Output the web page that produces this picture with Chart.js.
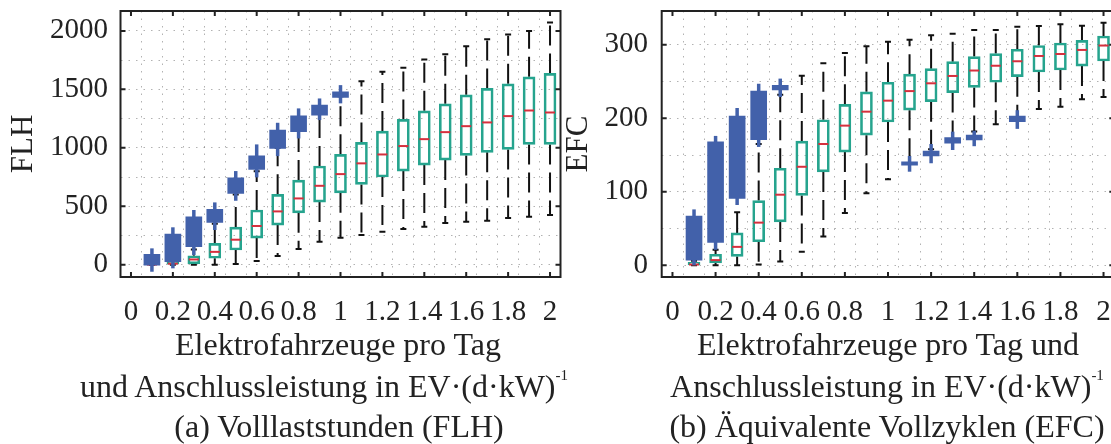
<!DOCTYPE html>
<html>
<head>
<meta charset="utf-8">
<script src="https://cdn.jsdelivr.net/npm/chart.js@4/dist/chart.umd.min.js"></script>
<style>
body { margin: 0; width: 1111px; height: 444px; overflow: hidden; background: #fff; position: relative;
       font-family: 'Liberation Serif', serif; color: #222; }
canvas { position: absolute; top: 0; }
#flh { left: 0; }
#efc { left: 560px; }
.cap { position: absolute; width: 700px; text-align: center; white-space: nowrap; font-size: 32px; line-height: 32px; }
.sup { position: relative; top: -17px; font-size: 15px; }
</style>
</head>
<body>
<canvas id="flh" width="570" height="330"></canvas>
<canvas id="efc" width="570" height="330"></canvas>
<div class="cap" style="left:-12px;top:328px">Elektrofahrzeuge pro Tag</div>
<div class="cap" style="left:-26px;top:370px">und Anschlussleistung in EV·(d·kW)<span class="sup">-1</span></div>
<div class="cap" style="left:-11px;top:410px">(a) Volllaststunden (FLH)</div>
<div class="cap" style="left:538px;top:328px">Elektrofahrzeuge pro Tag und</div>
<div class="cap" style="left:537px;top:370px">Anschlussleistung in EV·(d·kW)<span class="sup">-1</span></div>
<div class="cap" style="left:537px;top:410px">(b) Äquivalente Vollzyklen (EFC)</div>
<script>
Chart.defaults.font.family = "'Liberation Serif', serif";
Chart.defaults.color = '#222';

const xValues = [0.1, 0.2, 0.3, 0.4, 0.5, 0.6, 0.7, 0.8, 0.9, 1.0, 1.1, 1.2, 1.3, 1.4, 1.5, 1.6, 1.7, 1.8, 1.9, 2.0];
const xTickValues = [0, 0.2, 0.4, 0.6, 0.8, 1, 1.2, 1.4, 1.6, 1.8, 2];
const xTickLabels = ['0', '0.2', '0.4', '0.6', '0.8', '1', '1.2', '1.4', '1.6', '1.8', '2'];

// (a) full load hours - teal boxes
const flhQ1 = [0, 0, 8, 55, 126, 228, 339, 444, 536, 615, 687, 750, 801, 852, 895, 935, 961, 986, 1029, 1029];
const flhMedian = [1, 9, 45, 110, 214, 331, 456, 567, 675, 775, 867, 943, 1015, 1074, 1134, 1185, 1217, 1271, 1319, 1302];
const flhQ3 = [5, 24, 77, 183, 322, 468, 602, 724, 844, 944, 1046, 1143, 1243, 1316, 1376, 1453, 1508, 1547, 1607, 1636];
const flhLow = [0, 0, 0, 0, 6, 32, 74, 134, 197, 231, 254, 282, 305, 325, 356, 368, 376, 399, 410, 425];
const flhHigh = [20, 60, 130, 350, 600, 800, 1000, 1150, 1300, 1440, 1570, 1650, 1684, 1755, 1801, 1869, 1929, 1969, 2000, 2072];
// (a) blue point clouds
const flhBlueLow = [-3, 26, 154, 362, 610, 815, 995, 1137, 1280, 1431, null, null, null, null, null, null, null, null, null, null];
const flhBlueHigh = [89, 262, 410, 473, 744, 932, 1151, 1274, 1365, 1479, null, null, null, null, null, null, null, null, null, null];
const flhBlueMin = [-60, -31, 83, 297, 547, 747, 929, 1080, 1237, 1380, null, null, null, null, null, null, null, null, null, null];
const flhBlueMax = [140, 320, 468, 533, 801, 1029, 1214, 1337, 1422, 1536, null, null, null, null, null, null, null, null, null, null];
const flhYTicks = [0, 500, 1000, 1500, 2000];

// (b) equivalent full cycles - teal boxes
const efcQ1 = [0.4, 3, 12, 32, 59, 95, 127, 154, 177, 195, 211, 222.6, 235, 242, 249, 256.6, 263, 265.7, 271, 278];
const efcMedian = [1, 7, 25, 58, 96, 134, 165, 190, 209, 224, 237, 247.6, 257.6, 265, 271.5, 277.6, 284.8, 287.5, 293, 299];
const efcQ3 = [4, 15, 44, 88, 132, 169, 198, 219, 236, 249, 260, 267.5, 277, 284, 288, 294, 299, 302.4, 306, 312];
const efcLow = [0, 0, 0, 1, 5, 18.5, 39, 71, 98, 117, 138, 158, 170, 182, 192, 200, 212.7, 215.8, 226, 229];
const efcHigh = [6, 21, 72, 165, 232, 258, 275, 289, 298, 304, 307, 313, 315, 320, 320, 324.6, 325.6, 327.9, 326, 330];
// (b) blue point clouds
const efcBlueLow = [7, 31, 91, 171, 238.5, null, null, null, null, null, 136.2, 148.7, 166, 170.5, null, 195.4, null, null, null, null];
const efcBlueHigh = [67, 168, 203, 237, 245, null, null, null, null, null, 140.7, 155.5, 173.6, 177, null, 203, null, null, null, null];
const efcBlueMin = [0, 21, 82, 161, 229, null, null, null, null, null, 127.3, 138.8, 156.8, 162, null, 185.6, null, null, null, null];
const efcBlueMax = [76, 176, 214, 247, 254, null, null, null, null, null, 148.7, 165, 181.8, 183, null, 211, null, null, null, null];
const efcYTicks = [0, 100, 200, 300];

const teal = 'rgb(38, 164, 142)';
const blue = 'rgb(66, 97, 170)';
const red = 'rgb(214, 48, 62)';

function boxPlugin(s) {
  return {
    id: 'boxes',
    beforeDatasetsDraw(chart) {
      const { ctx, scales: { x, y } } = chart;
      ctx.save();
      ctx.strokeStyle = '#111';
      ctx.lineWidth = 2;
      xValues.forEach((v, i) => {
        const px = x.getPixelForValue(v);
        ctx.setLineDash([20, 8]);
        ctx.beginPath();
        ctx.moveTo(px, y.getPixelForValue(s.q3[i]));
        ctx.lineTo(px, y.getPixelForValue(s.hi[i]));
        ctx.moveTo(px, y.getPixelForValue(s.q1[i]));
        ctx.lineTo(px, y.getPixelForValue(s.lo[i]));
        ctx.stroke();
        ctx.setLineDash([]);
        ctx.beginPath();
        [s.lo[i], s.hi[i]].forEach(w => {
          const py = y.getPixelForValue(w);
          ctx.moveTo(px - 3, py);
          ctx.lineTo(px + 3, py);
        });
        ctx.stroke();
      });
      ctx.restore();
    },
    afterDatasetDraw(chart, args) {
      if (args.index !== 0) return;
      const { ctx, scales: { x, y } } = chart;
      ctx.save();
      ctx.strokeStyle = red;
      ctx.lineWidth = 2;
      xValues.forEach((v, i) => {
        const px = x.getPixelForValue(v);
        const py = y.getPixelForValue(s.med[i]);
        ctx.beginPath();
        ctx.moveTo(px - 5, py);
        ctx.lineTo(px + 5, py);
        ctx.stroke();
      });
      // vertical arms of the blue markers
      ctx.strokeStyle = blue;
      ctx.lineWidth = 3.5;
      xValues.forEach((v, i) => {
        if (s.bMin[i] == null) return;
        const px = x.getPixelForValue(v);
        ctx.beginPath();
        ctx.moveTo(px, y.getPixelForValue(s.bMin[i]));
        ctx.lineTo(px, y.getPixelForValue(s.bMax[i]));
        ctx.stroke();
      });
      ctx.restore();
    },
    afterDraw(chart) {
      const { ctx, chartArea: a, scales: { x, y } } = chart;
      ctx.save();
      ctx.strokeStyle = '#222';
      ctx.lineWidth = 2;
      ctx.strokeRect(a.left, a.top, a.right - a.left, a.bottom - a.top);
      ctx.beginPath();
      xTickValues.forEach(v => {
        const px = x.getPixelForValue(v);
        ctx.moveTo(px, a.bottom); ctx.lineTo(px, a.bottom - 5);
        ctx.moveTo(px, a.top); ctx.lineTo(px, a.top + 5);
      });
      s.yTicks.forEach(v => {
        const py = y.getPixelForValue(v);
        ctx.moveTo(a.left, py); ctx.lineTo(a.left + 5, py);
        ctx.moveTo(a.right, py); ctx.lineTo(a.right - 5, py);
      });
      ctx.stroke();
      ctx.restore();
    }
  };
}

function makeChart(id, s) {
  const boxes = xValues.map((v, i) => ({ x: v, y: [s.q1[i], s.q3[i]] }));
  const clouds = [];
  xValues.forEach((v, i) => {
    if (s.bLow[i] != null) clouds.push({ x: v, y: [s.bLow[i], s.bHigh[i]] });
  });
  const yStep = s.yTicks[1] - s.yTicks[0];
  return new Chart(document.getElementById(id), {
    type: 'bar',
    data: {
      datasets: [{
        data: boxes,
        backgroundColor: 'rgba(255,255,255,0)',
        borderColor: teal,
        borderWidth: 2,
        borderSkipped: false,
        barThickness: 12,
        grouped: false,
        order: 2
      }, {
        data: clouds,
        backgroundColor: blue,
        borderWidth: 0,
        barThickness: 16,
        grouped: false,
        order: 1
      }]
    },
    options: {
      responsive: false,
      animation: false,
      devicePixelRatio: 1,
      layout: { padding: { top: 11, right: s.padRight, left: 0, bottom: 0 } },
      plugins: { legend: { display: false }, tooltip: { enabled: false } },
      scales: {
        x: {
          type: 'linear',
          min: -0.05,
          max: 2.05,
          offset: false,
          afterBuildTicks: axis => { axis.ticks = [0, ...xValues].map(v => ({ value: v })); },
          afterFit: axis => {
            axis.height = 53;
            axis.paddingLeft = 0;
            axis.paddingRight = 0;
          },
          ticks: {
            autoSkip: false,
            maxRotation: 0,
            padding: 18,
            font: { size: 29 },
            callback: value => {
              const k = xTickValues.findIndex(t => Math.abs(t - value) < 1e-6);
              return k >= 0 ? xTickLabels[k] : '';
            }
          },
          grid: { color: 'rgba(0,0,0,0.3)', lineWidth: 1, drawTicks: false },
          border: { display: false, dash: [1.5, 6] }
        },
        y: {
          min: s.yMin,
          max: s.yMax,
          afterBuildTicks: axis => {
            const t = [];
            s.yTicks.forEach(v => {
              t.push({ value: v });
              if (v + yStep / 2 < s.yMax) t.push({ value: v + yStep / 2 });
            });
            axis.ticks = t;
          },
          afterFit: axis => {
            axis.width = s.axisWidth;
            axis.paddingTop = 0;
            axis.paddingBottom = 0;
          },
          ticks: {
            autoSkip: false,
            padding: s.yPad,
            font: { size: 29 },
            callback: value => s.yTicks.includes(value) ? String(value) : ''
          },
          title: { display: true, text: s.title, font: { size: 31 }, padding: { top: s.titlePad, bottom: 0 } },
          grid: { color: 'rgba(0,0,0,0.3)', lineWidth: 1, drawTicks: false },
          border: { display: false, dash: [1.5, 6] }
        }
      }
    },
    plugins: [boxPlugin(s)]
  });
}

makeChart('flh', {
  q1: flhQ1, med: flhMedian, q3: flhQ3, lo: flhLow, hi: flhHigh,
  bLow: flhBlueLow, bHigh: flhBlueHigh, bMin: flhBlueMin, bMax: flhBlueMax,
  yTicks: flhYTicks, yMin: -105, yMax: 2170, title: 'FLH',
  axisWidth: 120.5, padRight: 9.5, yPad: 12.5, titlePad: 5
});

makeChart('efc', {
  q1: efcQ1, med: efcMedian, q3: efcQ3, lo: efcLow, hi: efcHigh,
  bLow: efcBlueLow, bHigh: efcBlueHigh, bMin: efcBlueMin, bMax: efcBlueMax,
  yTicks: efcYTicks, yMin: -16, yMax: 346, title: 'EFC',
  axisWidth: 101.7, padRight: 15.7, yPad: 13.7, titlePad: 0
});
</script>
</body>
</html>
